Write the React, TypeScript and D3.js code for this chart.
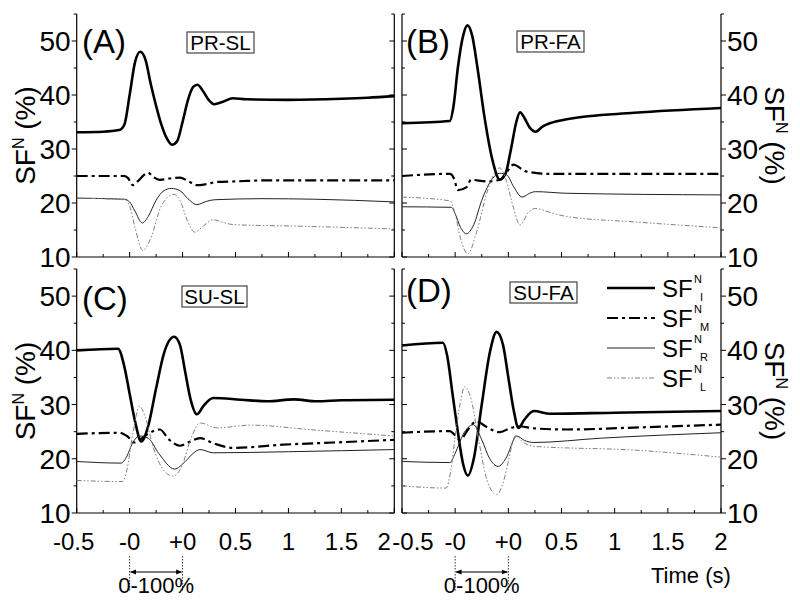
import React from "react";
import * as d3 from "d3";

type Pt = [number, number];

// x positions are on the chart's segmented time axis: index of tick label
const X_LABELS = ["-0.5", "-0", "+0", "0.5", "1", "1.5", "2"];
const X_TICKS = [0, 1, 2, 3, 4, 5, 6];
const X_MINOR = [0.5, 1.5, 2.5, 3.5, 4.5, 5.5];
const Y_TICKS = [10, 20, 30, 40, 50];
const Y_MINOR = [15, 25, 35, 45, 55];

const SERIES_NAMES = ["I", "M", "R", "L"];
const PANEL_LABELS = ["(A)", "(B)", "(C)", "(D)"];
const PANEL_TITLES = ["PR-SL", "PR-FA", "SU-SL", "SU-FA"];

const A_I: Pt[] = [[0,33.1],[0.5,33.2],[0.8,33.5],[0.9,34.5],[1.0,40],[1.1,46],[1.2,48],[1.3,46.5],[1.4,42],[1.5,38],[1.6,34.5],[1.7,32],[1.8,30.8],[1.9,31.5],[2.0,35],[2.1,39],[2.2,41.5],[2.28,41.9],[2.4,40.5],[2.5,39],[2.6,38.3],[2.75,38.7],[2.95,39.4],[3.2,39.2],[4,39.1],[5,39.3],[5.5,39.5],[6,39.8]];
const A_M: Pt[] = [[0,25],[0.9,25],[0.97,24.6],[1.06,23.3],[1.15,24],[1.3,25.4],[1.35,25.6],[1.45,24.8],[1.57,24.3],[1.8,24.6],[1.95,24.7],[2.1,24.1],[2.27,23.3],[2.45,23.5],[2.65,23.9],[3.0,24.0],[3.6,24.2],[6,24.2]];
const A_R: Pt[] = [[0,20.9],[0.9,20.7],[1.0,20.2],[1.1,18.5],[1.24,16.3],[1.35,17.5],[1.5,20.5],[1.65,22.3],[1.79,22.7],[1.95,22.3],[2.1,20.8],[2.27,19.7],[2.45,20.3],[2.6,20.6],[3.5,20.8],[4.5,20.7],[6,20.2]];
const A_L: Pt[] = [[0,20.9],[0.9,20.6],[1.0,19.5],[1.1,15.5],[1.25,11.2],[1.4,13.5],[1.6,19.5],[1.84,21.6],[1.95,20.5],[2.1,16.5],[2.23,14.6],[2.4,15.8],[2.58,16.9],[2.8,16.3],[2.96,16.0],[4.23,15.7],[6,15.2]];

const B_I: Pt[] = [[0,34.8],[0.9,35.2],[0.97,38],[1.05,45],[1.15,51],[1.23,52.9],[1.32,51],[1.42,45],[1.55,36],[1.7,28],[1.84,24.3],[1.95,25.5],[2.05,30],[2.15,35],[2.22,36.8],[2.3,35.8],[2.4,34],[2.51,33.2],[2.65,34.2],[2.79,34.8],[3.1,35.5],[4.37,36.7],[6,37.6]];
const B_M: Pt[] = [[0,25],[0.9,25.4],[0.98,24.5],[1.05,22.4],[1.21,22.9],[1.3,24.3],[1.59,24.0],[1.84,24.3],[1.95,25.5],[2.1,27.1],[2.25,26.3],[2.35,25.8],[2.79,25.4],[6,25.4]];
const B_R: Pt[] = [[0,19.3],[0.93,19.2],[1.0,18.0],[1.1,15.5],[1.21,14.3],[1.35,16],[1.5,20.5],[1.7,24.5],[1.84,25.5],[1.97,25.2],[2.1,23],[2.26,21.1],[2.4,21.8],[2.51,22.1],[3.1,21.8],[6,21.5]];
const B_L: Pt[] = [[0,21.1],[0.9,20.4],[1.0,18],[1.1,13.5],[1.24,10.6],[1.4,14.5],[1.6,22],[1.84,26.5],[1.95,24.5],[2.1,19],[2.22,15.9],[2.38,18.3],[2.51,19.0],[2.8,18.2],[3.1,17.5],[4.37,16.5],[6,15.4]];

const C_I: Pt[] = [[0,40.0],[0.78,40.3],[0.9,37],[1.0,32],[1.1,27],[1.22,23.2],[1.35,26],[1.5,33],[1.65,39.5],[1.84,42.5],[1.95,41],[2.05,36],[2.15,31],[2.27,28.2],[2.4,29.8],[2.58,31.2],[3.1,30.9],[3.6,30.6],[4.1,30.95],[4.54,30.6],[5,30.8],[6,30.9]];
const C_M: Pt[] = [[0,24.6],[0.81,24.8],[0.95,24.2],[1.1,23.0],[1.3,24.3],[1.57,25.4],[1.75,23.5],[1.95,22.4],[2.15,23.2],[2.33,23.8],[2.6,22.8],[2.96,22.0],[3.9,22.6],[4.86,23.0],[6,23.5]];
const C_R: Pt[] = [[0,19.5],[0.84,19.2],[0.95,20.5],[1.05,22.8],[1.19,24.2],[1.35,23.8],[1.55,21],[1.85,18.1],[2.05,19.5],[2.2,21],[2.33,21.7],[2.58,21.1],[4,21.3],[6,21.7]];
const C_L: Pt[] = [[0,16.0],[0.87,15.8],[0.95,18],[1.05,24],[1.19,29.7],[1.3,27.5],[1.45,22],[1.65,17.8],[1.82,16.8],[1.98,18.5],[2.15,23.5],[2.33,26.6],[2.65,25.7],[3.28,26.2],[4.5,25.3],[6,24.2]];

const D_I: Pt[] = [[0,40.9],[0.77,41.4],[0.85,39],[0.95,32],[1.05,25],[1.15,19],[1.24,16.9],[1.35,20],[1.5,30],[1.65,39.5],[1.78,43.4],[1.9,41],[2.0,35],[2.1,29],[2.19,25.7],[2.3,27.2],[2.48,28.8],[2.79,28.3],[4,28.5],[6,28.8]];
const D_M: Pt[] = [[0,24.8],[0.9,25.1],[1.0,24.3],[1.09,23.5],[1.25,25.5],[1.4,26.9],[1.6,25.8],[1.84,24.9],[2.0,25.5],[2.19,26.0],[2.5,25.6],[3.1,25.4],[4.5,25.8],[6,26.3]];
const D_R: Pt[] = [[0,19.5],[0.9,19.3],[1.0,21],[1.15,24.5],[1.34,26.3],[1.5,23.5],[1.65,20],[1.81,18.6],[1.95,20],[2.16,24.2],[2.3,23.4],[2.48,23.0],[3.74,23.8],[6,24.8]];
const D_L: Pt[] = [[0,15.0],[0.83,14.6],[0.92,18],[1.0,24],[1.1,30.5],[1.18,33.3],[1.3,31],[1.45,23],[1.6,16],[1.78,13.4],[1.9,15.5],[2.0,19.5],[2.13,24.2],[2.3,22.9],[2.48,22.3],[4.37,21.6],[6,20.3]];

const PANEL_DATA: Pt[][][] = [
  [A_I, A_M, A_R, A_L],
  [B_I, B_M, B_R, B_L],
  [C_I, C_M, C_R, C_L],
  [D_I, D_M, D_R, D_L],
];

const STYLES = [
  { stroke: "#000", width: 2.6, dash: "" },
  { stroke: "#000", width: 2.2, dash: "11,4,3,4" },
  { stroke: "#222", width: 1, dash: "" },
  { stroke: "#808080", width: 1, dash: "5,2,1.5,2,1.5,2" },
];

const FONT = "'Liberation Sans', Arial, sans-serif";

const LAYOUT = [
  { x0: 76.7, x1: 394.3, y0: 14, y1: 257, left: true, bottom: false },
  { x0: 402, x1: 721, y0: 14, y1: 257, left: false, bottom: false },
  { x0: 76.7, x1: 394.3, y0: 269, y1: 513, left: true, bottom: true },
  { x0: 402, x1: 721, y0: 269, y1: 513, left: false, bottom: true },
];

const LABEL_POS = [
  { lx: 82, ly: 53, bx: 187, by: 32, bw: 67 },
  { lx: 406, ly: 53, bx: 517, by: 31, bw: 67 },
  { lx: 82, ly: 310, bx: 182, by: 286, bw: 65 },
  { lx: 406, ly: 302, bx: 510, by: 282, bw: 67 },
];

function Panel({ i }: { i: number }) {
  const L = LAYOUT[i];
  const x = d3.scaleLinear().domain([0, 6]).range([L.x0, L.x1]);
  const y = d3.scaleLinear().domain([10, 55]).range([L.y1, L.y0]);
  const line = d3
    .line<Pt>()
    .x((d) => x(d[0]))
    .y((d) => y(d[1]))
    .curve(d3.curveMonotoneX);
  const outerX = L.left ? L.x0 : L.x1;
  const innerX = L.left ? L.x1 : L.x0;
  const outDir = L.left ? -1 : 1;
  const lp = LABEL_POS[i];
  // nudge the labels that meet in the gap between the two panels
  const labelShift = (t: number) => {
    if (L.left && t === 6) return -10;
    if (!L.left && t === 0) return 11;
    if (t === 0) return -3;
    return 0;
  };
  return (
    <g>
      {/* frame */}
      <line x1={L.x0} x2={L.x1} y1={L.y1} y2={L.y1} stroke="#000" strokeWidth={1.2} />
      <line x1={L.x0} x2={L.x0} y1={L.y0} y2={L.y1} stroke="#000" strokeWidth={1.2} />
      <line x1={L.x1} x2={L.x1} y1={L.y0} y2={L.y1} stroke="#000" strokeWidth={1.2} />
      {/* x ticks (inward) */}
      {X_TICKS.map((t) => (
        <line key={"xt" + t} x1={x(t)} x2={x(t)} y1={L.y1} y2={L.y1 - 5} stroke="#000" strokeWidth={1} />
      ))}
      {X_MINOR.map((t) => (
        <line key={"xm" + t} x1={x(t)} x2={x(t)} y1={L.y1} y2={L.y1 - 3} stroke="#000" strokeWidth={1} />
      ))}
      {/* y ticks outer */}
      {Y_TICKS.map((t) => (
        <line key={"yo" + t} x1={outerX} x2={outerX + outDir * 5} y1={y(t)} y2={y(t)} stroke="#000" strokeWidth={1} />
      ))}
      {Y_MINOR.map((t) => (
        <line key={"yom" + t} x1={outerX} x2={outerX + outDir * 3} y1={y(t)} y2={y(t)} stroke="#000" strokeWidth={1} />
      ))}
      {/* y ticks inner border (inward) */}
      {Y_TICKS.map((t) => (
        <line key={"yi" + t} x1={innerX} x2={innerX + outDir * 5} y1={y(t)} y2={y(t)} stroke="#000" strokeWidth={1} />
      ))}
      {Y_MINOR.map((t) => (
        <line key={"yim" + t} x1={innerX} x2={innerX + outDir * 3} y1={y(t)} y2={y(t)} stroke="#000" strokeWidth={1} />
      ))}
      {/* y tick labels */}
      {Y_TICKS.map((t) => (
        <text
          key={"yl" + t}
          x={L.left ? outerX - 6 : outerX + 6}
          y={y(t) + 10}
          fontSize={28}
          fontFamily={FONT}
          textAnchor={L.left ? "end" : "start"}
        >
          {t}
        </text>
      ))}
      {/* x tick labels */}
      {L.bottom &&
        X_TICKS.map((t) => (
          <text
            key={"xl" + t}
            x={x(t) + labelShift(t)}
            y={L.y1 + 37}
            fontSize={24}
            fontFamily={FONT}
            textAnchor="middle"
          >
            {X_LABELS[t]}
          </text>
        ))}
      {/* y axis title */}
      <text
        transform={
          L.left
            ? `translate(${outerX - 42},${(L.y0 + L.y1) / 2}) rotate(-90)`
            : `translate(${outerX + 44},${(L.y0 + L.y1) / 2}) rotate(90)`
        }
        fontSize={28}
        fontFamily={FONT}
        textAnchor="middle"
      >
        SF<tspan fontSize={16} dy={-11}>N</tspan>
        <tspan dy={11}> (%)</tspan>
      </text>
      {/* series */}
      {PANEL_DATA[i].map((s, k) => (
        <path
          key={"s" + k}
          d={line(s) || ""}
          fill="none"
          stroke={STYLES[k].stroke}
          strokeWidth={STYLES[k].width}
          strokeDasharray={STYLES[k].dash || undefined}
        />
      ))}
      {/* panel label */}
      <text x={lp.lx} y={lp.ly} fontSize={33} fontFamily={FONT}>
        {PANEL_LABELS[i]}
      </text>
      <rect x={lp.bx} y={lp.by} width={lp.bw} height={21} fill="#fff" stroke="#444" strokeWidth={1.2} />
      <text x={lp.bx + lp.bw / 2} y={lp.by + 18} fontSize={20.5} fontFamily={FONT} textAnchor="middle">
        {PANEL_TITLES[i]}
      </text>
      {/* 0-100% annotation */}
      {L.bottom && (
        <g>
          <line x1={x(1)} x2={x(1)} y1={L.y1 + 43} y2={L.y1 + 78} stroke="#000" strokeWidth={0.8} strokeDasharray="1.5,1.5" />
          <line x1={x(2)} x2={x(2)} y1={L.y1 + 43} y2={L.y1 + 78} stroke="#000" strokeWidth={0.8} strokeDasharray="1.5,1.5" />
          <line x1={x(1) + 1} x2={x(2) - 1} y1={L.y1 + 59} y2={L.y1 + 59} stroke="#000" strokeWidth={1} markerStart="url(#arr)" markerEnd="url(#arr)" />
          <text x={(x(1) + x(2)) / 2} y={L.y1 + 80} fontSize={22} fontFamily={FONT} textAnchor="middle">
            0-100%
          </text>
        </g>
      )}
    </g>
  );
}

function Legend() {
  const x0 = 607;
  const x1 = 655;
  const rows = [288, 318, 348, 378];
  return (
    <g>
      {SERIES_NAMES.map((n, k) => (
        <g key={n}>
          <line
            x1={x0}
            x2={x1}
            y1={rows[k]}
            y2={rows[k]}
            stroke={STYLES[k].stroke}
            strokeWidth={STYLES[k].width}
            strokeDasharray={STYLES[k].dash || undefined}
          />
          <text x={662} y={rows[k] + 9} fontSize={24} fontFamily={FONT}>
            SF
          </text>
          <text x={694} y={rows[k] - 5} fontSize={11} fontFamily={FONT}>
            N
          </text>
          <text x={700} y={rows[k] + 13} fontSize={11} fontFamily={FONT}>
            {n}
          </text>
        </g>
      ))}
    </g>
  );
}

export default function App() {
  return (
    <svg
      width={800}
      height={609}
      style={{ position: "absolute", left: 0, top: 0, background: "#fff" }}
    >
      <defs>
        <marker id="arr" viewBox="0 0 10 10" refX={9} refY={5} markerWidth={6} markerHeight={6} orient="auto-start-reverse">
          <path d="M0,1 L10,5 L0,9 z" fill="#000" />
        </marker>
      </defs>
      <rect width={800} height={609} fill="#fff" />
      {[0, 1, 2, 3].map((i) => (
        <Panel key={i} i={i} />
      ))}
      <Legend />
      <text x={651} y={583} fontSize={22} fontFamily={FONT}>
        Time (s)
      </text>
    </svg>
  );
}
